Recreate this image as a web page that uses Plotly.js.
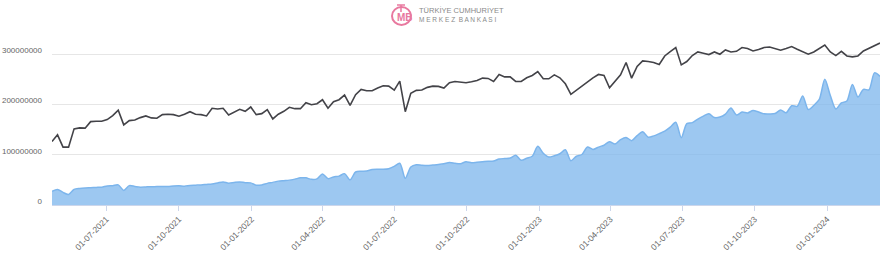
<!DOCTYPE html>
<html>
<head>
<meta charset="utf-8">
<script src="https://cdn.plot.ly/plotly-3.0.1.min.js"></script>
<style>html,body{margin:0;padding:0;background:#fff;}#chart{width:880px;height:257px;}</style>
</head>
<body>
<div id="chart"></div>
<script>
// Weekly series, first week and count
const startDate = '2021-04-23';
const weekCount = 151;

// Black line series (millions)
const lineValues = [
126.3,139.6,115.2,115.2,151.5,153.5,152.9,165.9,166.7,166.7,169.9,177.8,188.5,159.4,167.9,169.3,173.9,177.2,173.3,172.7,179.8,180.6,179.8,176.6,180.6,
185.7,180.6,179.8,177.2,192.5,191.1,192.5,179.2,184.6,190.5,186.5,195.0,179.8,181.8,189.7,171.3,180.6,186.5,194.5,191.7,191.7,203.6,199.6,201.6,209.5,
192.5,205.5,209.5,218.8,198.4,219.4,230.1,227.3,227.3,232.7,237.2,236.6,228.7,246.5,185.7,222.2,228.1,228.7,234.1,236.6,236.0,232.7,243.2,245.9,244.0,
243.2,245.1,247.9,252.5,251.9,245.9,259.8,255.0,255.0,245.9,245.9,253.1,257.8,265.7,251.1,251.1,259.0,253.1,241.2,220.2,228.7,236.0,244.6,253.1,259.8,
257.8,233.3,245.9,259.0,283.6,252.5,275.6,286.7,285.5,283.6,279.6,296.6,305.3,313.3,278.8,285.5,297.4,304.6,302.0,299.4,304.6,300.0,308.5,304.6,
305.9,313.3,311.3,306.5,309.3,313.3,314.5,311.3,307.9,311.3,315.2,309.9,304.6,300.0,304.6,311.3,318.4,304.6,297.4,305.9,296.6,294.7,296.6,306.5,311.3,317.2,322.4
];

// Blue area series (millions)
const areaValues = [
27,31,25,21,31,33,34,34.5,35,35.5,38,38.5,40,29,38.5,37,35.5,36,36.5,36.6,37,37,38,38.5,37.5,
39,39.5,40,41,42,44,46,43.5,45,46,44.5,44,39.3,40,43,45,47.5,48.5,49.5,51.5,54,54,51,52,61.5,
52.5,55.8,57.5,62.4,50,65.7,67,67.5,70.5,71,71,72.3,77,83,53,75.6,80,79,78.5,79.5,80.5,82,84.5,83,82,
86,84,85,86,87,87.5,91.5,92.5,93.4,99,89,93,97,117,103,95.5,98,102,110,88,97,100.5,115.5,110.5,115.2,
119,126,121.5,130,134.5,128,138,146,135,137.5,142,147,155,164.8,134,162,164,171,177,181.5,174,175,181,193,
179,185,183.2,188,185,181.5,181.2,182,189,183.5,197.6,196.4,217,190,198,210,250,218,191,203,207,240,215,230,229.3,263,256
];

// Y axis ticks
const yTickValues = [0, 100000000, 200000000, 300000000, 400000000];
const yTickLabels = ['0', '100000000', '200000000', '300000000', ''];

const dates = (function () {
  const d0 = Date.parse(startDate + 'T00:00:00Z');
  const out = [];
  for (let i = 0; i < weekCount; i++) out.push(new Date(d0 + i * 7 * 86400000).toISOString().slice(0, 10));
  return out;
})();

const toUnits = a => a.map(v => v * 1e6);

const traces = [
  {
    x: dates, y: toUnits(areaValues), type: 'scatter', mode: 'lines',
    fill: 'tozeroy', fillcolor: 'rgba(124,181,236,0.75)',
    line: {color: '#7cb5ec', width: 1.5, shape: 'spline', smoothing: 0.8},
    hoverinfo: 'skip'
  },
  {
    x: dates, y: toUnits(lineValues), type: 'scatter', mode: 'lines',
    line: {color: '#434348', width: 1.6},
    hoverinfo: 'skip'
  }
];

const font = 'Liberation Sans, Arial, sans-serif';
const px = x => (x - 52) / 828;
const py = y => (205.5 - y) / 201.5;

const layout = {
  width: 880, height: 257,
  margin: {l: 52, r: 0, t: 4, b: 52, pad: 0},
  paper_bgcolor: '#fff', plot_bgcolor: '#fff',
  showlegend: false,
  font: {family: font, color: '#666', size: 8.5},
  xaxis: {
    type: 'date',
    range: [dates[0], dates[dates.length - 1]],
    tick0: '2021-07-01', dtick: 'M3',
    tickformat: '%d-%m-%Y', tickangle: -45,
    showgrid: false, zeroline: false,
    showline: true, linecolor: '#ccd6eb', linewidth: 1,
    ticks: 'outside', ticklen: 5, tickcolor: '#ccd6eb',
    tickfont: {family: font, size: 8.5, color: '#666'}
  },
  yaxis: {
    range: [0, 400000000],
    tickmode: 'array', tickvals: yTickValues, ticktext: yTickLabels,
    showgrid: true, gridcolor: '#e6e6e6', gridwidth: 1,
    zeroline: false, showline: false, ticks: '',
    ticklabelstandoff: 9, ticklabelshift: -4,
    tickfont: {family: font, size: 8, color: '#666'}
  },
  shapes: [
    {type: 'circle', xref: 'paper', yref: 'paper',
     x0: px(392), x1: px(411), y0: py(25), y1: py(7),
     line: {color: '#e8799f', width: 2}, fillcolor: 'rgba(0,0,0,0)'},
    {type: 'line', xref: 'paper', yref: 'paper',
     x0: px(397), x1: px(405), y0: py(5), y1: py(5),
     line: {color: '#e8799f', width: 1.5}},
    {type: 'line', xref: 'paper', yref: 'paper',
     x0: px(401), x1: px(401), y0: py(5), y1: py(12),
     line: {color: '#e8799f', width: 1.5}}
  ],
  annotations: [
    {xref: 'paper', yref: 'paper', x: px(405), y: py(17.5), text: '<b>MB</b>',
     showarrow: false, font: {family: font, size: 10, color: '#e8799f'}, xanchor: 'center', yanchor: 'middle'},
    {xref: 'paper', yref: 'paper', x: px(417), y: py(10.5), text: 'TÜRKİYE CUMHURİYET',
     showarrow: false, font: {family: font, size: 7.5, color: '#8a8a8a'}, xanchor: 'left', yanchor: 'middle'},
    {xref: 'paper', yref: 'paper', x: px(417), y: py(19.5), text: 'M E R K E Z  B A N K A S I',
     showarrow: false, font: {family: font, size: 6.5, color: '#8a8a8a'}, xanchor: 'left', yanchor: 'middle'}
  ]
};

Plotly.newPlot('chart', traces, layout, {staticPlot: true, displayModeBar: false});
</script>
</body>
</html>
